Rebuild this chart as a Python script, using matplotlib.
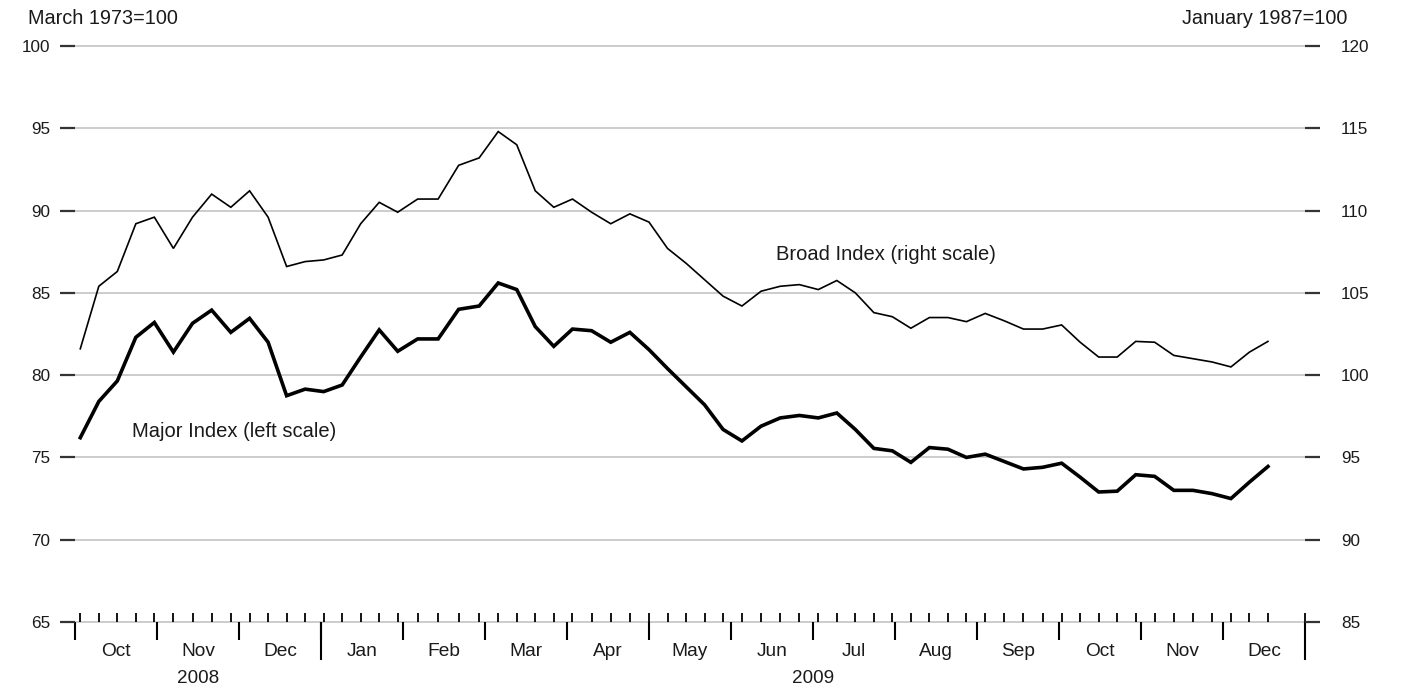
import matplotlib
matplotlib.use("Agg")
import matplotlib.pyplot as plt
import pandas as pd

plt.rcParams['font.family'] = ['Liberation Sans', 'DejaVu Sans']

# weekly observations (Fridays), 3 Oct 2008 .. 18 Dec 2009
dates = pd.date_range('2008-10-03', periods=64, freq='7D')

# Broad index, right scale (January 1987=100)
broad = [101.6, 105.4, 106.3, 109.2, 109.6,
         107.7, 109.6, 111.0, 110.2,
         111.2, 109.6, 106.6, 106.9,
         107.0, 107.3, 109.2, 110.5, 109.9,
         110.7, 110.7, 112.75, 113.2,
         114.8, 114.0, 111.2, 110.2,
         110.7, 109.9, 109.2, 109.8,
         109.3, 107.7, 106.8, 105.8, 104.8,
         104.2, 105.1, 105.4, 105.5,
         105.2, 105.75, 105.0, 103.8, 103.55,
         102.85, 103.5, 103.5, 103.25,
         103.75, 103.3, 102.8, 102.8,
         103.05, 102.0, 101.1, 101.1, 102.05,
         102.0, 101.2, 101.0, 100.8,
         100.5, 101.4, 102.05]

# Major index, left scale (March 1973=100)
major = [76.2, 78.4, 79.65, 82.3, 83.2,
         81.4, 83.15, 83.95, 82.6,
         83.45, 82.0, 78.75, 79.15,
         79.0, 79.4, 81.1, 82.75, 81.45,
         82.2, 82.2, 84.0, 84.2,
         85.6, 85.2, 82.95, 81.75,
         82.8, 82.7, 82.0, 82.6,
         81.55, 80.4, 79.3, 78.2, 76.7,
         76.0, 76.9, 77.4, 77.55,
         77.4, 77.7, 76.7, 75.55, 75.4,
         74.7, 75.6, 75.5, 75.0,
         75.2, 74.75, 74.3, 74.4,
         74.65, 73.8, 72.9, 72.95, 73.95,
         73.85, 73.0, 73.0, 72.8,
         72.5, 73.5, 74.45]

months = ["Oct", "Nov", "Dec", "Jan", "Feb", "Mar", "Apr", "May",
          "Jun", "Jul", "Aug", "Sep", "Oct", "Nov", "Dec"]
years = ["2008", "2009"]
year_spans = [(0, 3), (3, 15)]

left_ticks = [65, 70, 75, 80, 85, 90, 95, 100]
right_ticks = [85, 90, 95, 100, 105, 110, 115, 120]

# every month gets the same width: x = months since Oct 2008 + fraction of month
x = [(d.year - 2008) * 12 + d.month - 10 + (d.day - 1) / d.days_in_month for d in dates]

txt = '#1a1a1a'
grid = '#cccccc'

fig = plt.figure(figsize=(14.08, 6.91), dpi=100)
ax = fig.add_axes([75 / 1408, 69 / 691, 1230 / 1408, 576 / 691])
ax2 = ax.twinx()

ax.set_xlim(0, 15)
ax.set_ylim(65, 100)
ax2.set_ylim(85, 120)

for v in left_ticks:
    ax.axhline(v, color=grid, lw=1.4, clip_on=False, zorder=0)

ax.plot(x, major, color='black', lw=2.6, solid_joinstyle='miter', zorder=3)
ax2.plot(x, broad, color='black', lw=1.2, solid_joinstyle='miter', zorder=3)

for a in (ax, ax2):
    for s in a.spines.values():
        s.set_visible(False)

# y ticks
ax.set_yticks(left_ticks)
ax.tick_params(axis='y', direction='out', length=11, width=1.6, color='#333333',
               pad=7, labelsize=12.3, labelcolor=txt)
ax2.set_yticks(right_ticks)
ax2.tick_params(axis='y', direction='out', length=11, width=1.6, color='#333333',
                pad=15, labelsize=12.3, labelcolor=txt)

# weekly ticks pointing up
ax.set_xticks(x + [15])
ax.set_xticklabels([])
ax.tick_params(axis='x', direction='in', length=6.5, width=1.3, color='black')

# month boundaries pointing down, year boundaries longer
for locs, ln in ((range(0, 15), 13), ([3, 15], 27)):
    sec = ax.secondary_xaxis('bottom')
    sec.set_xticks(list(locs))
    sec.set_xticklabels([])
    sec.tick_params(axis='x', direction='out', length=ln, width=1.5, color='black')
    for s in sec.spines.values():
        s.set_visible(False)

xt = ax.get_xaxis_transform()
for i, m in enumerate(months):
    ax.text(i + 0.5, -0.052, m, transform=xt, ha='center', va='center',
            fontsize=13.8, color=txt)
for yr, (a, b) in zip(years, year_spans):
    ax.text((a + b) / 2, -0.098, yr, transform=xt, ha='center', va='center',
            fontsize=13.6, color=txt)

fig.text(28 / 1408, 1 - 18 / 691, "March 1973=100", ha='left', va='center',
         fontsize=14.3, color=txt)
fig.text(1347 / 1408, 1 - 18 / 691, "January 1987=100", ha='right', va='center',
         fontsize=14.3, color=txt)

ax.text(8.55, 87.36, "Broad Index (right scale)", ha='left', va='center',
        fontsize=14.5, color=txt, zorder=4)
ax.text(0.695, 76.55, "Major Index (left scale)", ha='left', va='center',
        fontsize=14.5, color=txt, zorder=4)

fig.savefig("out.png", dpi=100)
